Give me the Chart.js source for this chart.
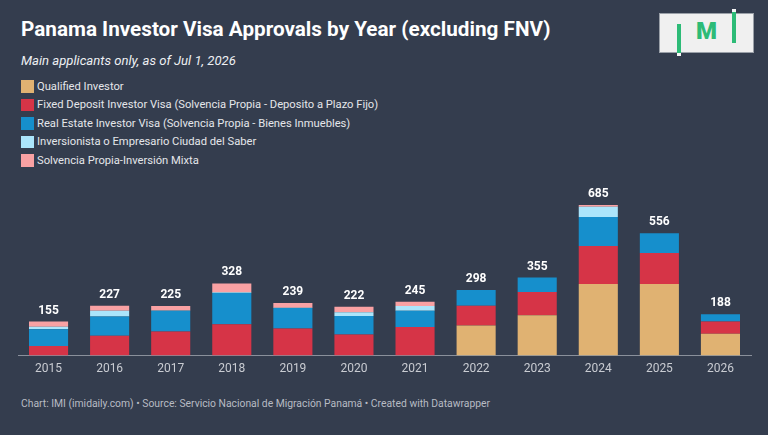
<!DOCTYPE html>
<html>
<head>
<meta charset="utf-8">
<script src="https://cdn.jsdelivr.net/npm/chart.js@4.4.1/dist/chart.umd.min.js"></script>
<style>
  html, body { margin: 0; padding: 0; }
  body { width: 768px; height: 435px; background: #343d4e; font-family: Roboto, sans-serif; position: relative; overflow: hidden; }
  h1 { position: absolute; left: 21px; top: 17px; margin: 0; font-size: 20.7px; font-weight: 700; color: #ffffff; }
  .sub { position: absolute; left: 21px; top: 53px; font-size: 13.1px; font-style: italic; color: #eef0f3; }
  #legend { position: absolute; left: 21px; top: 77px; }
  .item { height: 18.5px; display: flex; align-items: center; font-size: 11.2px; color: #e4e6ea; }
  .sw { width: 12.5px; height: 12.5px; margin-right: 3.5px; }
  .foot { position: absolute; left: 21px; top: 397px; font-size: 10.35px; color: #b7bbc3; }
  #wrap { position: absolute; left: 0; top: 170px; width: 768px; height: 212px; }
  .logo { position: absolute; left: 659px; top: 13px; width: 95px; height: 40px; background: #f0f0f0; border: 1px solid #9aa0a8; box-sizing: border-box; }
  .bar { position: absolute; width: 4px; background: #2dbb77; }
  .cap { position: absolute; width: 4px; height: 3px; background: #f5f5f5; }
  .m { position: absolute; left: 696px; top: 17px; font-size: 24px; font-weight: 900; color: #2dbb77; font-family: Roboto, sans-serif; }
</style>
</head>
<body>
<h1>Panama Investor Visa Approvals by Year (excluding FNV)</h1>
<div class="sub">Main applicants only, as of Jul 1, 2026</div>
<div id="legend"></div>
<div class="logo"></div>
<div class="bar" style="left:677px;top:24px;height:30px"></div>
<div class="cap" style="left:677px;top:53px"></div>
<div class="bar" style="left:732px;top:12px;height:31px"></div>
<div class="cap" style="left:732px;top:9px"></div>
<div class="m">M</div>
<div id="wrap"><canvas id="visaChart"></canvas></div>
<div class="foot">Chart: IMI (imidaily.com) • Source: Servicio Nacional de Migración Panamá • Created with Datawrapper</div>
<script>
// Tahun
const years = ["2015", "2016", "2017", "2018", "2019", "2020", "2021", "2022", "2023", "2024", "2025", "2026"];

// Jumlah per kategori visa
const qualifiedInvestor = [0, 0, 0, 0, 0, 0, 0, 137, 184, 326, 326, 99];
const fixedDeposit = [44, 90, 110, 143, 123, 96, 130, 90, 105, 172, 141, 56];
const realEstate = [76, 88, 94, 142, 93, 84, 74, 71, 66, 132, 89, 33];
const ciudadSaber = [11, 26, 1, 3, 2, 17, 22, 0, 0, 47, 0, 0];
const inversionMixta = [24, 23, 20, 40, 21, 25, 19, 0, 0, 8, 0, 0];

// Total di atas batang
const totals = [155, 227, 225, 328, 239, 222, 245, 298, 355, 685, 556, 188];

const series = [
  { label: "Qualified Investor", data: qualifiedInvestor, color: "#e0b272" },
  { label: "Fixed Deposit Investor Visa (Solvencia Propia - Deposito a Plazo Fijo)", data: fixedDeposit, color: "#d63447" },
  { label: "Real Estate Investor Visa (Solvencia Propia - Bienes Inmuebles)", data: realEstate, color: "#168fcc" },
  { label: "Inversionista o Empresario Ciudad del Saber", data: ciudadSaber, color: "#abe5fb" },
  { label: "Solvencia Propia-Inversión Mixta", data: inversionMixta, color: "#f9a1a3" },
];

// Legend manual
const legendEl = document.getElementById("legend");
series.forEach((s) => {
  const row = document.createElement("div");
  row.className = "item";
  row.innerHTML = '<span class="sw" style="background:' + s.color + '"></span>' + s.label;
  legendEl.appendChild(row);
});

// Label total di atas tiap batang
const totalLabels = {
  id: "totalLabels",
  afterDatasetsDraw(chart) {
    const { ctx, scales } = chart;
    ctx.save();
    ctx.font = "bold 12px Roboto";
    ctx.fillStyle = "#ffffff";
    ctx.textAlign = "center";
    ctx.textBaseline = "bottom";
    totals.forEach((t, i) => {
      const x = scales.x.getPixelForValue(i);
      const y = scales.y.getPixelForValue(t);
      ctx.fillText(t, x, y - 5);
    });
    ctx.restore();
  },
};

const ctx = document.getElementById("visaChart").getContext("2d");
new Chart(ctx, {
  type: "bar",
  data: {
    labels: years,
    datasets: series.map((s) => ({
      label: s.label,
      data: s.data,
      backgroundColor: s.color,
      borderWidth: 0,
      categoryPercentage: 1,
      barPercentage: 0.64,
    })),
  },
  options: {
    responsive: true,
    maintainAspectRatio: false,
    animation: false,
    layout: { padding: { top: 20, left: 18, right: 17, bottom: 0 } },
    plugins: {
      legend: { display: false },
      tooltip: { enabled: false },
    },
    scales: {
      x: {
        stacked: true,
        grid: { display: false, drawTicks: false },
        border: { color: "#8a909b", width: 1 },
        ticks: { color: "#c9ccd2", font: { family: "Roboto", size: 12 }, padding: 6 },
      },
      y: {
        stacked: true,
        display: false,
        min: 0,
        max: 753,
      },
    },
  },
  plugins: [totalLabels],
});
</script>
</body>
</html>
